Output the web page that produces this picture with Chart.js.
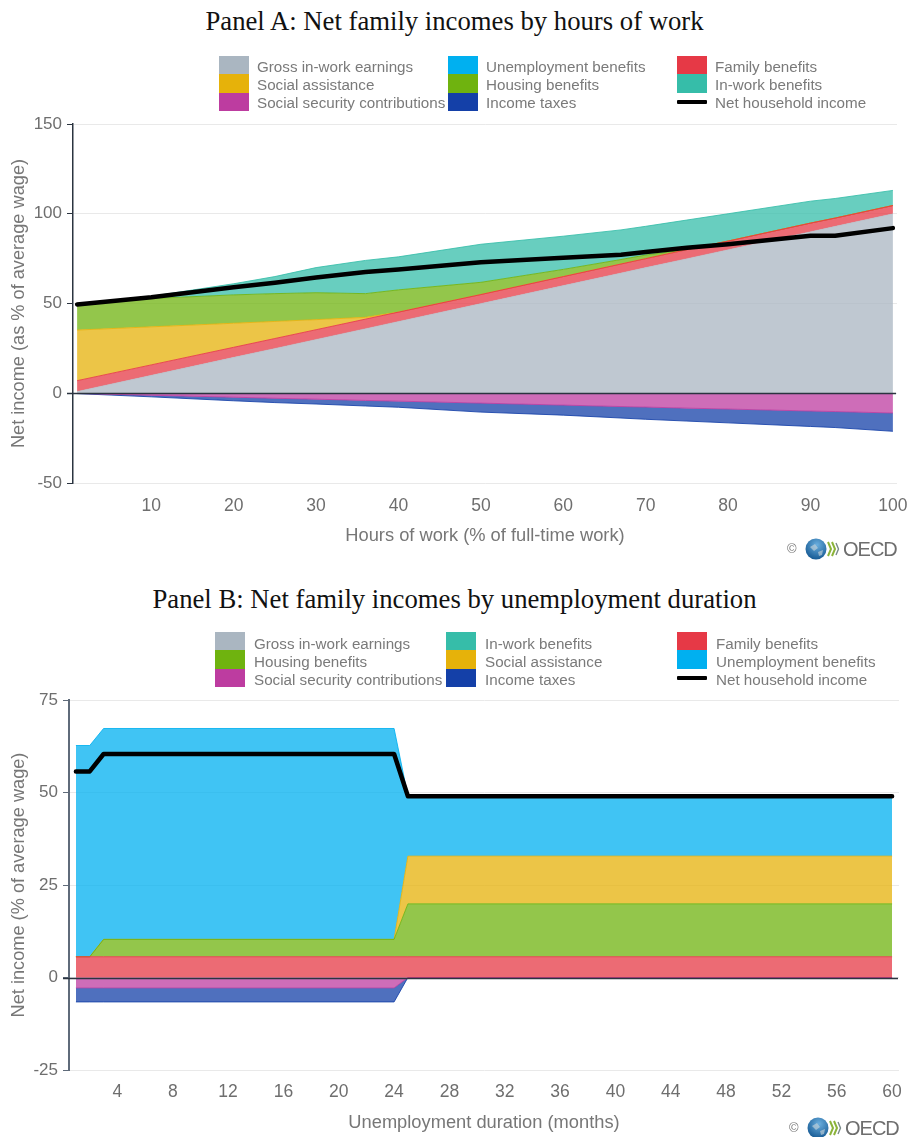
<!DOCTYPE html>
<html><head><meta charset="utf-8">
<script src="https://cdn.jsdelivr.net/npm/chart.js@4"></script>
<style>
html,body{margin:0;padding:0;background:#fff;width:909px;height:1137px;overflow:hidden}
body{position:relative;font-family:"Liberation Sans",Arial,sans-serif}
.abs{position:absolute;white-space:nowrap}
canvas{position:absolute;left:0}
.title{font-family:"Liberation Serif",serif;font-size:26.7px;color:#111;left:0;width:909px;text-align:center;line-height:28px}
.leg{font-size:15.2px;color:#7a7a7a;line-height:18px}
.oecd{font-size:20px;color:#6e6e6e;letter-spacing:-1px;line-height:22px}
.copy{font-size:13px;color:#777;line-height:16px}
</style></head><body>
<div class="abs title" style="top:7px">Panel A: Net family incomes by hours of work</div>
<div class="abs title" style="top:585px">Panel B: Net family incomes by unemployment duration</div>
<canvas id="a" style="top:110px"></canvas>
<canvas id="b" style="top:688px"></canvas>
<script>
const seriesColors={
  "Gross in-work earnings":"#aab6c1","Unemployment benefits":"#00b0f0","Family benefits":"#e63946",
  "Social assistance":"#e6b20a","Housing benefits":"#6fb30f","In-work benefits":"#36bda9",
  "Social security contributions":"#bd3ca0","Income taxes":"#1440a8","Net household income":"#000000"};

// Panel A
const hoursA=[1,10,20,25,30,36,40,50,60,67,70,75,80,90,93,100];
const grossA=[1,10,20,25,30,36,40,50,60,67,70,75,80,90,93,100];
const familyA=[6,5.8,5.6,5.5,5.4,5.3,5.2,5,5,5,5,5,4.8,4.8,4.6,4.6];
const assistA=[28.2,21.2,13.4,9.5,5.6,1,0,0,0,0,0,0,0,0,0,0];
const housingA=[14.8,15.8,15.8,15.5,15,13.2,12.4,6.8,4,2.5,2,0,0,0,0,0];
const inworkA=[0,1.2,6.2,9.5,14,18.5,18.4,21.2,18.5,16.5,16,16.5,15.2,12.2,10.9,8.4];
const sscA=[-0.1,-1.1,-2.2,-2.8,-3.3,-4,-4.4,-5.5,-6.6,-7.4,-7.7,-8.3,-8.8,-9.9,-10.2,-11];
const taxA=[-0.1,-0.9,-2,-2.4,-2.7,-3.1,-3.4,-5,-5.6,-6.4,-6.8,-7.2,-7.7,-8.6,-8.9,-10.2];
const netA=[49.5,53.5,59,61.5,64.5,67.5,69,73,75.5,77.2,78.7,81,83,87.8,87.8,92];
const ticksXA=[10,20,30,40,50,60,70,80,90,100];
const ticksYA=[-50,0,50,100,150];

// Panel B
const monthsB=[1,2,3,24,25,60];
const familyB=[5.6,5.6,5.6,5.6,5.6,5.6];
const housingB=[0,0,4.7,4.7,14.3,14.3];
const assistB=[0,0,0,0,12.9,12.9];
const unempB=[57.1,57.1,57,57,16.2,16.2];
const sscB=[-2.8,-2.8,-2.8,-2.8,0,0];
const taxB=[-3.8,-3.8,-3.8,-3.8,0,0];
const netB=[55.7,55.7,60.4,60.4,49,49];
const ticksXB=[4,8,12,16,20,24,28,32,36,40,44,48,52,56,60];
const ticksYB=[-25,0,25,50,75];

const legendA=[["Gross in-work earnings","Social assistance","Social security contributions"],
  ["Unemployment benefits","Housing benefits","Income taxes"],
  ["Family benefits","In-work benefits","Net household income"]];
const legendB=[["Gross in-work earnings","Housing benefits","Social security contributions"],
  ["In-work benefits","Social assistance","Income taxes"],
  ["Family benefits","Unemployment benefits","Net household income"]];

function hexA(h,a){const n=parseInt(h.slice(1),16);return `rgba(${n>>16},${(n>>8)&255},${n&255},${a})`}
function pts(xs,ys){return xs.map((x,i)=>({x,y:ys[i]}))}

function area(name,xs,ys,fill,stack){
  const c=seriesColors[name];
  return {label:name,data:pts(xs,ys),fill,backgroundColor:hexA(c,.75),borderColor:name==="Gross in-work earnings"?hexA(c,.4):hexA(c,.85),
    borderWidth:1,pointRadius:0,tension:0,stack};
}
function netLine(xs,ys){
  return {label:"Net household income",data:pts(xs,ys),fill:false,borderColor:"#000",borderWidth:4.5,
    pointRadius:0,tension:0,stack:"net",order:-1,borderJoinStyle:"round",borderCapStyle:"round"};
}

const zeroLine={id:"zeroLine",beforeDatasetDraw(ch,args,o){
  if(ch.data.datasets[args.index].stack!=="net")return;
  const y=Math.round(ch.scales.y.getPixelForValue(0))+.5,{left,right}=ch.chartArea,c=ch.ctx;
  c.save();c.strokeStyle=o.color;c.lineWidth=1.4;c.beginPath();c.moveTo(left-6,y);c.lineTo(right-1,y);c.stroke();c.restore();
}};

function make(id,cfg){
  const cv=document.getElementById(id);
  cv.width=909;cv.height=cfg.h;cv.style.width="909px";cv.style.height=cfg.h+"px";
  new Chart(cv,{type:"line",data:{datasets:cfg.datasets},plugins:[zeroLine],options:{
    responsive:false,animation:false,
    layout:{padding:{top:cfg.top,right:cfg.right,left:0,bottom:0}},
    plugins:{legend:{display:false},tooltip:{enabled:false},zeroLine:{color:"#2b3440"}},
    scales:{
      x:{type:"linear",min:cfg.xmin,max:cfg.xmax,
        afterBuildTicks(s){s.ticks=cfg.ticksX.map(v=>({value:v}))},
        afterFit(s){s.height=cfg.xh;s.paddingRight=0;s.paddingLeft=0},
        grid:{display:false,drawTicks:false},border:{display:false},
        ticks:{autoSkip:false,maxRotation:0,color:"#6e6e6e",font:{family:"Liberation Sans",size:17.5},padding:cfg.xpad},
        title:{display:true,text:cfg.xtitle,color:"#777",font:{family:"Liberation Sans",size:18.3},padding:{top:0,bottom:cfg.xtb}}},
      y:{stacked:true,min:cfg.ticksY[0],max:cfg.ticksY[cfg.ticksY.length-1],
        afterBuildTicks(s){s.ticks=cfg.ticksY.map(v=>({value:v}))},
        afterFit(s){s.width=cfg.yw;s.paddingTop=0;s.paddingBottom=0},
        grid:{color:"#e9e9e9",tickColor:cfg.axis,tickLength:6,lineWidth:1},
        border:{color:cfg.axis,width:cfg.axisW},
        ticks:{color:"#6e6e6e",font:{family:"Liberation Sans",size:17},padding:5},
        title:{display:true,text:cfg.ytitle,color:"#777",font:{family:"Liberation Sans",size:18.2},padding:{top:8,bottom:0}}}
    }}});
}

make("a",{h:440,top:14,right:12,xh:67,yw:73,xmin:.5,xmax:100.5,ticksX:ticksXA,ticksY:ticksYA,xpad:13,
  xtitle:"Hours of work (% of full-time work)",ytitle:"Net income (as % of average wage)",xtb:3,axis:"#2b3440",axisW:1.5,
  datasets:[
    area("Gross in-work earnings",hoursA,grossA,"origin","pos"),
    area("Family benefits",hoursA,familyA,0,"pos"),
    area("Social assistance",hoursA,assistA,1,"pos"),
    area("Housing benefits",hoursA,housingA,2,"pos"),
    area("In-work benefits",hoursA,inworkA,3,"pos"),
    area("Social security contributions",hoursA,sscA,"origin","neg"),
    area("Income taxes",hoursA,taxA,5,"neg"),
    netLine(hoursA,netA)]});

make("b",{h:449,top:12,right:10,xh:67,yw:69,xmin:.5,xmax:60.5,ticksX:ticksXB,ticksY:ticksYB,xpad:12,
  xtitle:"Unemployment duration (months)",ytitle:"Net income (% of average wage)",xtb:3,axis:"#5f6b7a",axisW:2,
  datasets:[
    area("Family benefits",monthsB,familyB,"origin","pos"),
    area("Housing benefits",monthsB,housingB,0,"pos"),
    area("Social assistance",monthsB,assistB,1,"pos"),
    area("Unemployment benefits",monthsB,unempB,2,"pos"),
    area("Social security contributions",monthsB,sscB,"origin","neg"),
    area("Income taxes",monthsB,taxB,4,"neg"),
    netLine(monthsB,netB)]});

function el(css,cls,txt){const d=document.createElement("div");d.className="abs "+(cls||"");d.style.cssText=css;if(txt)d.textContent=txt;document.body.appendChild(d);return d}
function legend(cols,xs,top,step,dy,dx){
  cols.forEach((col,ci)=>col.forEach((name,ri)=>{
    const y=top+ri*step;
    if(name==="Net household income") el(`left:${xs[ci]}px;top:${y+step/2-2}px;width:30px;height:4px;background:#000;border-radius:1px`);
    else el(`left:${xs[ci]}px;top:${y}px;width:30px;height:${step}px;background:${seriesColors[name]}`);
    el(`left:${xs[ci]+38+dx}px;top:${y+step/2-9+dy}px`,"leg",name);
  }));
}
legend(legendA,[219,448,677],56,18.3,1.5,0);
legend(legendB,[215,446,677],632,18.3,2.5,1);

function logo(x,y){ // y = vertical centre, x = left of ©
  el(`left:${x}px;top:${y-8}px`,"copy","©");
  const s=document.createElementNS("http://www.w3.org/2000/svg","svg");
  s.setAttribute("width","40");s.setAttribute("height","26");
  s.style.cssText=`position:absolute;left:${x+18}px;top:${y-13}px`;
  s.innerHTML=`<defs><radialGradient id="g${x}" cx=".55" cy=".3" r=".8"><stop offset="0" stop-color="#6aaede"/><stop offset="1" stop-color="#0b4f8a"/></radialGradient></defs>
  <circle cx="11" cy="13" r="10.5" fill="url(#g${x})"/><path d="M5 11l5-3 3 4-4 3zM13 16l5-2-1 5-3 1z" fill="#cfd8dc" opacity=".6"/>
  <path d="M23 6l3 7-3 7M27 6l3 7-3 7" fill="none" stroke="#8bb33a" stroke-width="2"/>
  <path d="M31 7l2.5 6-2.5 6" fill="none" stroke="#7a8a8a" stroke-width="1.4"/>`;
  document.body.appendChild(s);
  el(`left:${x+56}px;top:${y-11}px`,"oecd","OECD");
}
logo(787,549);
logo(789,1128);
</script>
</body></html>
